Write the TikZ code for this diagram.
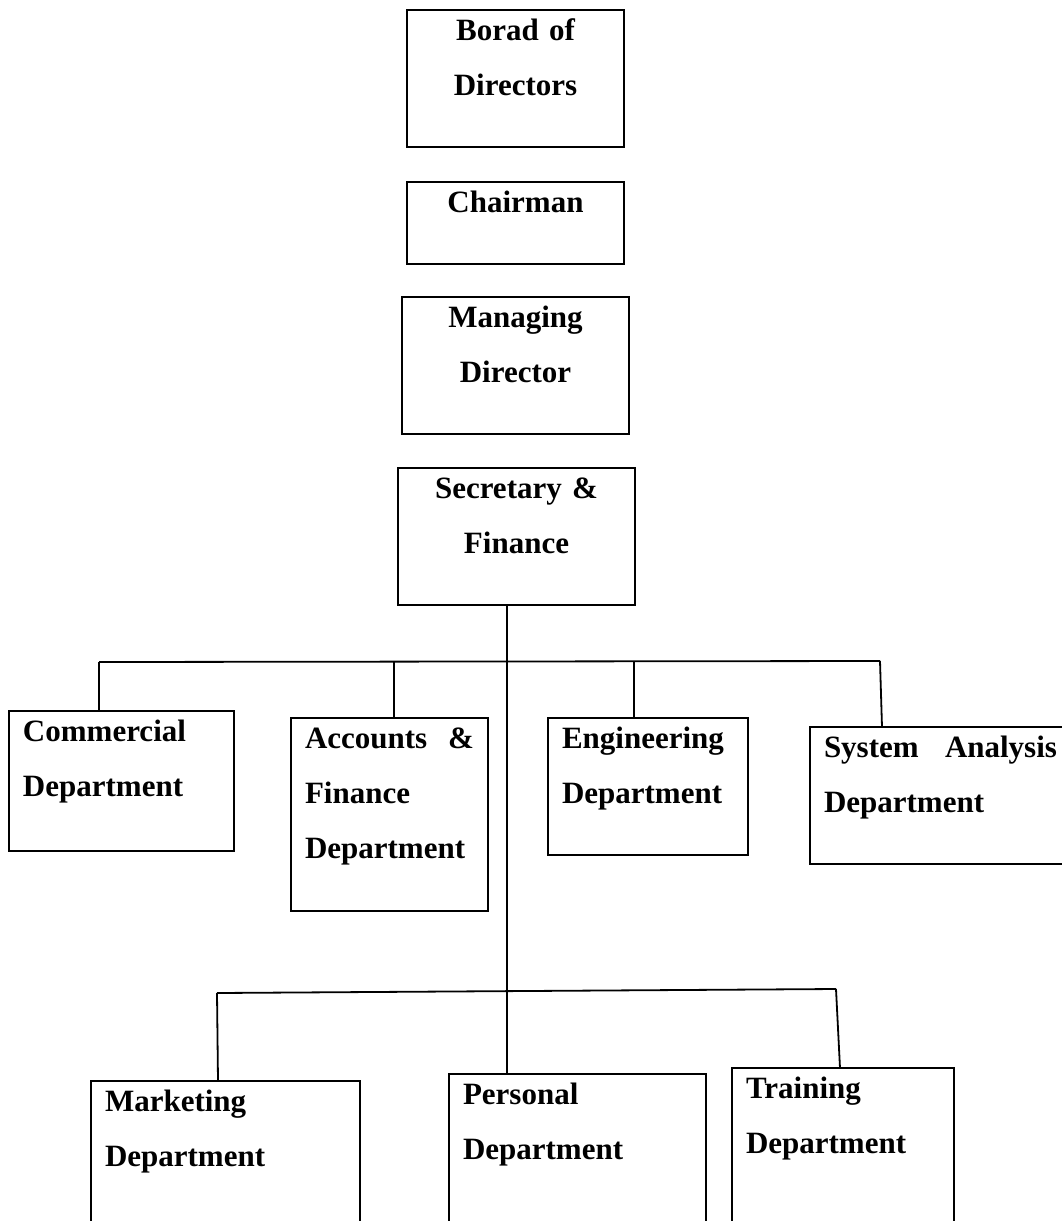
\documentclass[tikz,border=0pt]{standalone}
\usepackage{fontspec}
\setmainfont{Liberation Serif}
\tikzset{
  unit/.style={draw, line width=2.8pt, anchor=north west, outer sep=0pt,
    inner xsep=14pt, inner ysep=0pt, text height=30pt, align=left,
    font=\fontsize{31}{55}\selectfont\bfseries},
  link/.style={line width=1.8pt},
}
\begin{document}
\begin{tikzpicture}[x=1pt,y=-1pt]
  \clip (0,0) rectangle (1062,1221);
  \node[unit, align=center, text width=189pt, text depth=107pt] (board) at (407,10) {Borad of\\Directors};
  \node[unit, align=center, text width=189pt, text depth=52pt] (chair) at (407,182) {Chairman};
  \node[unit, align=center, text width=199pt, text depth=107pt] (md) at (402,297) {Managing\\Director};
  \node[unit, align=center, text width=209pt, text depth=107pt] (sec) at (398,468) {Secretary \&\\Finance};
  \node[unit, text width=197pt, text depth=110pt] (commercial) at (9,711) {Commercial\\Department};
  \node[unit, text width=169pt, text depth=163pt] (accounts) at (291,718) {Accounts\hfill\&\\Finance\\Department};
  \node[unit, text width=172pt, text depth=107pt] (engineering) at (548,718) {Engineering\\Department};
  \node[unit, text width=233pt, text depth=107pt] (system) at (810,727) {System\hfill Analysis\\Department};
  \node[unit, text width=241pt, text depth=130pt] (marketing) at (91,1081) {Marketing\\Department};
  \node[unit, text width=229pt, text depth=140pt] (personal) at (449,1074) {Personal\\Department};
  \node[unit, text width=194pt, text depth=140pt] (training) at (732,1068) {Training\\Department};
  \coordinate (trunk) at (507,662);
  \coordinate (busL) at (99,662);
  \coordinate (busR) at (880,661);
  \coordinate (dropAcc) at (394,662);
  \coordinate (dropEng) at (634,662);
  \coordinate (bus2L) at (217,993);
  \coordinate (bus2R) at (836,989);
  \draw[link] (trunk |- sec.south) -- (trunk |- personal.north);
  \draw[link] (busL) -- (busR);
  \draw[link] (busL) -- (busL |- commercial.north);
  \draw[link] (dropAcc) -- (dropAcc |- accounts.north);
  \draw[link] (dropEng) -- (dropEng |- engineering.north);
  \draw[link] (busR) -- ([xshift=72pt]system.north west);
  \draw[link] (bus2L) -- (bus2R);
  \draw[link] (bus2L) -- ([xshift=127pt]marketing.north west);
  \draw[link] (bus2R) -- ([xshift=108pt]training.north west);
\end{tikzpicture}
\end{document}
